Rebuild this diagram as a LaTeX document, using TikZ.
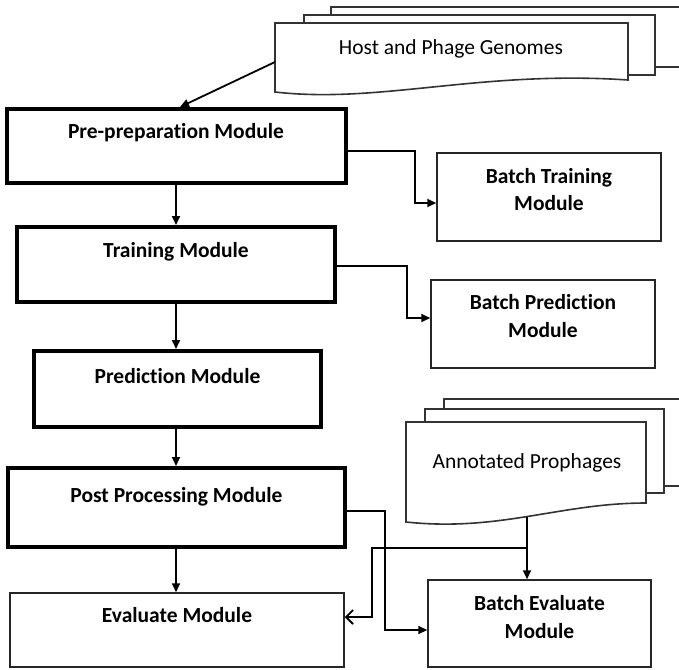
\documentclass[tikz,border=0pt]{standalone}
\usepackage{fontspec}
\setmainfont{Carlito}[Ligatures=NoCommon]
\usetikzlibrary{arrows.meta}

\tikzset{
  modbox/.style={draw=black, line width=4pt, fill=white, inner sep=0pt},
  batchbox/.style={draw=black!85, line width=1.5pt, fill=white, inner sep=0pt},
  lbl/.style={font=\fontsize{21.5}{26}\selectfont\bfseries, inner sep=0pt, align=center},
  doclbl/.style={font=\fontsize{21.5}{26}\selectfont, inner sep=0pt},
  docpage/.style={draw=black!80, line width=1.6pt, fill=white},
  flow/.style={draw=black, line width=1.8pt, -{Triangle[length=9pt,width=8pt]}},
  openflow/.style={draw=black, line width=1.8pt, -{Straight Barb[length=7pt,width=14pt]}},
}

\begin{document}
\begin{tikzpicture}[x=1pt, y=-1pt]
\useasboundingbox (0,0) rectangle (679,669);
\clip (0,0) rectangle (679,669);

% --- stacked document: Host and Phage Genomes ---
\draw[docpage] (331,7) -- (700,7) -- (700,67) -- (331,67) -- cycle;
\draw[docpage] (304,15) -- (655,15) -- (655,75) -- (304,75) -- cycle;
\draw[docpage] (275,23) -- (628,23) -- (628,80)
  .. controls (480,70) and (380,104) .. (275,92) -- cycle;
\node[doclbl] (hostT) at (451,49) {Host and Phage Genomes};
\coordinate (hostOut) at (275,62);

% --- stacked document: Annotated Prophages ---
\draw[docpage] (444,399) -- (700,399) -- (700,486) -- (444,486) -- cycle;
\draw[docpage] (425,409) -- (664,409) -- (664,493) -- (425,493) -- cycle;
\draw[docpage] (406,422) -- (646,422) -- (646,503)
  .. controls (560,503) and (500,532) .. (406,522) -- cycle;
\node[doclbl] (protoT) at (527,463) {Annotated Prophages};
\coordinate (apOut) at (527,517);
\coordinate (apJoin) at (527,548);

% --- module boxes ---
\node[modbox, minimum width=339pt, minimum height=74pt] (pre) at (176,146) {};
\node[lbl] at (176,133) {Pre-preparation Module};

\node[modbox, minimum width=318pt, minimum height=75pt] (train) at (176,264.5) {};
\node[lbl] at (176,252) {Training Module};

\node[modbox, minimum width=287pt, minimum height=76pt] (pred) at (177.5,389) {};
\node[lbl] at (177.5,376) {Prediction Module};

\node[modbox, minimum width=337pt, minimum height=79pt] (post) at (176.5,507.5) {};
\node[lbl] at (176.5,497) {Post Processing Module};

\node[batchbox, minimum width=334pt, minimum height=74pt] (eval) at (177,630) {};
\node[lbl] at (177,615) {Evaluate Module};

\node[batchbox, minimum width=224pt, minimum height=88pt] (bt) at (549,197) {};
\node[lbl] at (549,189.5) {Batch Training\\[1pt]Module};

\node[batchbox, minimum width=224pt, minimum height=88pt] (bp) at (543,324) {};
\node[lbl] at (543,316.5) {Batch Prediction\\[2pt]Module};

\node[batchbox, minimum width=223pt, minimum height=87pt] (be) at (539.5,623.5) {};
\node[lbl] at (539.5,617.5) {Batch Evaluate\\[2pt]Module};

% --- connectors ---
\draw[flow] (hostOut) -- ([xshift=4pt]pre.north);

\draw[flow] (pre.south) -- (train.north -| pre.south);
\draw[flow] (train.south) -- (pred.north -| train.south);
\draw[flow] (pred.south -| train.south) -- (post.north -| train.south);
\draw[flow] (post.south -| train.south) -- (eval.north -| train.south);

\draw[flow] ([yshift=-5pt]pre.east) -| (415,203) -- (bt.west |- 0,203);
\draw[flow] ([yshift=-1.5pt]train.east) -| (407,318) -- (bp.west |- 0,318);
\draw[flow] ([yshift=-3.5pt]post.east) -| (385,630) -- (be.west |- 0,630);

\draw[flow] (apOut) -- (apOut |- be.north);
\draw[openflow] (apJoin) -| (372,617) -- (eval.east |- 0,617);
\end{tikzpicture}
\end{document}
